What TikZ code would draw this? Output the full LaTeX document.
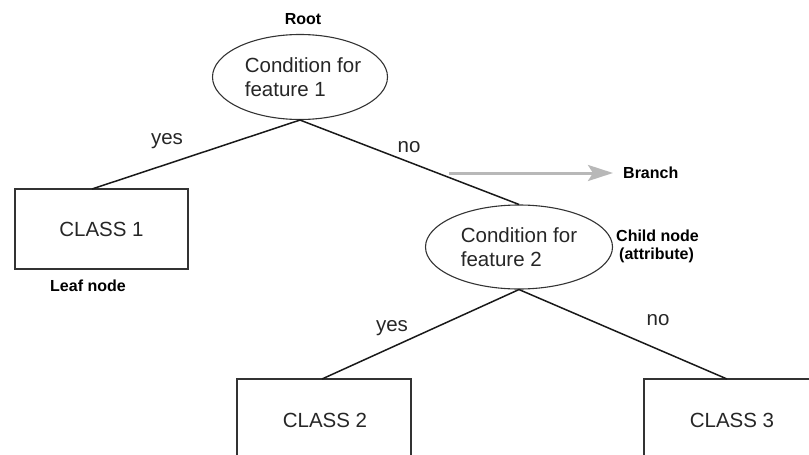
\documentclass[tikz,border=0pt]{standalone}
\usepackage{fontspec}
\setmainfont{Liberation Sans}
\usetikzlibrary{shapes.geometric,arrows.meta}
\begin{document}
\begin{tikzpicture}[x=1pt,y=-1pt,
  txt/.style={font=\fontsize{20.5}{24}\selectfont, text=black!85},
  tag/.style={font=\fontsize{16}{18}\selectfont\bfseries, text=black},
  cond/.style={ellipse, draw=black!80, line width=1.1pt, inner sep=0pt,
    txt, align=left},
  leaf/.style={rectangle, draw=black!80, line width=1.1pt, inner sep=0pt,
    txt},
  edge/.style={draw=black!90, line width=1.5pt},
  lab/.style={txt, inner sep=0pt}]
\useasboundingbox (0,0) rectangle (809,455);
\clip (0,0) rectangle (809,455);

% decision nodes
\node[cond, minimum width=175pt, minimum height=85pt] (root) at (300,77)
  {\hspace*{6pt}Condition for\\\hspace*{6pt}feature 1};
\node[cond, minimum width=187pt, minimum height=84pt] (child) at (519,247)
  {Condition for\\feature 2};

% leaves (the lower two run past the bottom edge)
\node[leaf, minimum width=173pt, minimum height=80pt] (c1) at (101.5,229) {CLASS 1};
\node[leaf, minimum width=174pt, minimum height=80pt] (c2) at (324,419) {};
\node[lab] at (325,420) {CLASS 2};
\node[leaf, minimum width=180pt, minimum height=80pt] (c3) at (734,419) {};
\node[lab] at (732,420) {CLASS 3};

% attachment points on the top edges of the leaves
\coordinate (c1top) at (92,189);
\coordinate (c2top) at (322,379);
\coordinate (c3top) at (727,379);

% branches
\draw[edge] (root.south) -- (c1top);
\draw[edge] (root.south) -- (child.north);
\draw[edge] (child.south) -- (c2top);
\draw[edge] (child.south) -- (c3top);

% branch labels
\node[lab] (y1) at (167,141) {yes};
\node[lab] (n1) at (409,147) {no};
\node[lab] (y2) at (392,328) {yes};
\node[lab] (n2) at (658,320) {no};

% annotations
\node[tag] (troot) at (303,19) {Root};
\node[tag] (tleaf) at (88,286) {Leaf node};
\node[tag, align=left, anchor=west, inner sep=0pt] (tchild) at (616,246)
  {Child node\\\hspace{3pt}(attribute)};
\node[tag, anchor=west, inner sep=0pt] (tbranch) at (623,173) {Branch};
\coordinate (btail) at (449,173);
\draw[draw=black!28, line width=3pt,
  -{Stealth[length=25pt,width=16pt,inset=5pt]}]
  (btail) -- ([xshift=-10pt]tbranch.west);
\end{tikzpicture}
\end{document}
